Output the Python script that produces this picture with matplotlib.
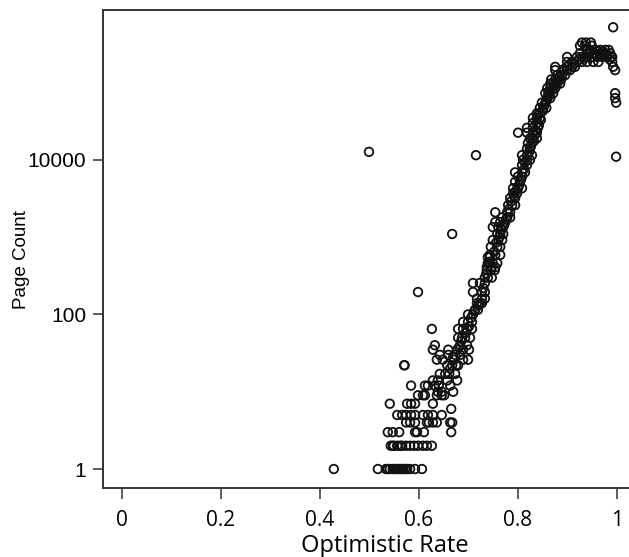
import matplotlib
matplotlib.use("Agg")
import matplotlib.pyplot as plt
from matplotlib.ticker import FixedLocator, NullLocator

# Optimistic rate (x) and page count (y) for each page group
rate = [
    0.428, 0.517, 0.533, 0.537, 0.541, 0.547, 0.551, 0.555, 0.558, 0.562, 0.565, 0.568, 0.572, 0.576, 0.582, 0.592, 0.606,
    0.543, 0.547, 0.549, 0.556, 0.562, 0.566, 0.574, 0.582, 0.590, 0.598, 0.608, 0.616, 0.626,
    0.537, 0.547, 0.560, 0.592, 0.596, 0.610, 0.665,
    0.574, 0.582, 0.592, 0.616, 0.620, 0.628, 0.636, 0.663, 0.667,
    0.556, 0.566, 0.574, 0.584, 0.592, 0.608, 0.618, 0.628, 0.646,
    0.665,
    0.541, 0.576, 0.584, 0.592, 0.628,
    0.598, 0.608, 0.612, 0.636, 0.646, 0.651,
    0.638, 0.646, 0.669,
    0.584, 0.612, 0.618, 0.632, 0.640, 0.663,
    0.628, 0.638, 0.657, 0.677,
    0.642, 0.653, 0.661, 0.673,
    0.570, 0.571, 0.657, 0.667, 0.675, 0.679,
    0.636, 0.648, 0.671, 0.689, 0.699,
    0.642, 0.659, 0.673, 0.683,
    0.628, 0.659, 0.677, 0.689, 0.701,
    0.632, 0.683, 0.697,
    0.679, 0.687, 0.693, 0.703,
    0.626, 0.679, 0.689, 0.697, 0.707,
    0.689, 0.699, 0.707,
    0.699, 0.709,
    0.713, 0.719,
    0.717, 0.723, 0.727,
    0.717, 0.727, 0.733,
    0.598, 0.709, 0.727, 0.733,
    0.709, 0.723, 0.733,
    0.733, 0.739, 0.747,
    0.737, 0.745, 0.753,
    0.737, 0.747, 0.754,
    0.739, 0.749, 0.758,
    0.739, 0.743,
    0.743, 0.754, 0.764,
    0.745, 0.758, 0.764,
    0.749, 0.760, 0.768,
    0.667, 0.758, 0.764, 0.770,
    0.749, 0.760, 0.770,
    0.754, 0.764, 0.774,
    0.768, 0.778, 0.784,
    0.754, 0.778, 0.784,
    0.780, 0.788, 0.794,
    0.784, 0.794,
    0.790, 0.798,
    0.790, 0.800, 0.808,
    0.794, 0.804,
    0.800, 0.808,
    0.794, 0.808, 0.814,
    0.808, 0.818,
    0.810, 0.818, 0.824,
    0.998,
    0.715, 0.808, 0.818, 0.828,
    0.499,
    0.818, 0.824,
    0.820, 0.828,
    0.824, 0.830, 0.838,
    0.800, 0.818, 0.830, 0.838,
    0.818, 0.830, 0.840,
    0.830, 0.838,
    0.830, 0.838, 0.844,
    0.838, 0.844,
    0.844, 0.851, 0.857,
    0.848, 0.855, 0.998,
    0.859, 0.865, 0.996,
    0.855, 0.861, 0.871, 0.996,
    0.859, 0.865, 0.875,
    0.865, 0.871, 0.879, 0.885,
    0.867, 0.875, 0.881, 0.887,
    0.879, 0.889, 0.895,
    0.875, 0.891, 0.899, 0.905, 0.996,
    0.875, 0.899, 0.909, 0.915, 0.992,
    0.899, 0.909, 0.919, 0.929, 0.939, 0.952, 0.962, 0.990,
    0.899, 0.919, 0.929, 0.939, 0.949, 0.960, 0.970, 0.980, 0.990,
    0.925, 0.939, 0.952, 0.966, 0.976, 0.986,
    0.939, 0.946, 0.956, 0.966, 0.976, 0.983,
    0.925, 0.935, 0.949,
    0.929, 0.937, 0.947,
    0.992,
]

pages = [
    1, 1, 1, 1, 1, 1, 1, 1, 1, 1, 1, 1, 1, 1, 1, 1, 1,
    2, 2, 2, 2, 2, 2, 2, 2, 2, 2, 2, 2, 2,
    3, 3, 3, 3, 3, 3, 3,
    4, 4, 4, 4, 4, 4, 4, 4, 4,
    5, 5, 5, 5, 5, 5, 5, 5, 5,
    6,
    7, 7, 7, 7, 7,
    9, 9, 9, 9, 9, 9,
    10, 10, 10,
    12, 12, 12, 12, 12, 12,
    14, 14, 14, 14,
    17, 17, 17, 17,
    22, 22, 22, 22, 22, 22,
    26, 26, 26, 26, 26,
    30, 30, 30, 30,
    35, 35, 35, 35, 35,
    40, 40, 40,
    50, 50, 50, 50,
    65, 65, 65, 65, 65,
    80, 80, 80,
    100, 100,
    115, 115,
    140, 140, 140,
    160, 160, 160,
    195, 195, 195, 195,
    255, 255, 255,
    300, 300, 300,
    375, 375, 375,
    410, 410, 410,
    460, 460, 460,
    550, 550,
    590, 590, 590,
    750, 750, 750,
    920, 920, 920,
    1100, 1100, 1100, 1100,
    1350, 1350, 1350,
    1570, 1570, 1570,
    1800, 1800, 1800,
    2100, 2100, 2100,
    2600, 2600, 2600,
    3200, 3200,
    3700, 3700,
    4300, 4300, 4300,
    5200, 5200,
    6100, 6100,
    6900, 6900, 6900,
    8600, 8600,
    10000, 10000, 10000,
    11000,
    11500, 11500, 11500, 11500,
    12700,
    14000, 14000,
    16500, 16500,
    19000, 19000, 19000,
    22500, 22500, 22500, 22500,
    26000, 26000, 26000,
    30000, 30000,
    35000, 35000, 35000,
    40000, 40000,
    47000, 47000, 47000,
    55000, 55000, 55000,
    63000, 63000, 63000,
    73000, 73000, 73000, 73000,
    85000, 85000, 85000,
    97000, 97000, 97000, 97000,
    110000, 110000, 110000, 110000,
    125000, 125000, 125000,
    145000, 145000, 145000, 145000, 145000,
    160000, 160000, 160000, 160000, 160000,
    185000, 185000, 185000, 185000, 185000, 185000, 185000, 185000,
    215000, 215000, 215000, 215000, 215000, 215000, 215000, 215000, 215000,
    240000, 240000, 240000, 240000, 240000, 240000,
    265000, 265000, 265000, 265000, 265000, 265000,
    300000, 300000, 300000,
    330000, 330000, 330000,
    520000,
]

# Additional overlapping points along the dense part of the curve
rate_dense = [
    0.663, 0.669, 0.681, 0.685, 0.695, 0.701, 0.705, 0.712, 0.720, 0.730,
    0.736, 0.742, 0.752, 0.756, 0.762, 0.766, 0.772, 0.776, 0.781, 0.786,
    0.792, 0.796, 0.802, 0.806, 0.812, 0.814, 0.822, 0.826, 0.832, 0.834,
    0.836, 0.842, 0.846, 0.840, 0.850, 0.853, 0.857, 0.863, 0.869, 0.873,
    0.877, 0.883, 0.887, 0.893, 0.903, 0.913, 0.923, 0.933, 0.943, 0.958,
    0.972, 0.980, 0.945, 0.962, 0.968, 0.985, 0.988,
]
pages_dense = [
    20, 28, 38, 45, 58, 70, 90, 110, 130, 220,
    340, 480, 650, 850, 1000, 1250, 1450, 1700, 2300, 2900,
    3400, 4000, 4700, 5600, 7600, 9300, 12500, 15000, 17500, 21000,
    24000, 28000, 33000, 38000, 43000, 51000, 58000, 68000, 80000, 90000,
    103000, 117000, 135000, 150000, 170000, 175000, 200000, 205000, 230000, 225000,
    250000, 230000, 250000, 255000, 230000, 200000, 215000,
]

x_ticks = [0, 0.2, 0.4, 0.6, 0.8, 1]
x_tick_labels = ["0", "0.2", "0.4", "0.6", "0.8", "1"]
y_ticks = [1, 100, 10000]
y_tick_labels = ["1", "100", "10000"]

all_rate = rate + rate_dense
all_pages = pages + pages_dense
assert len(all_rate) == len(all_pages)

fig = plt.figure(figsize=(6.29, 5.57), dpi=100)
ax = fig.add_axes([103 / 629, 69 / 557, 1 - 103 / 629, (488 - 10) / 557])

ax.scatter(all_rate, all_pages, s=38, facecolors="none", edgecolors="#111111", linewidths=1.3)

ax.set_yscale("log")
ax.set_xlim(-0.038, 1.024)
ax.set_ylim(0.568, 870000)

ax.xaxis.set_major_locator(FixedLocator(x_ticks))
ax.set_xticklabels(x_tick_labels, family="Open Sans", fontsize=15)
ax.yaxis.set_major_locator(FixedLocator(y_ticks))
ax.yaxis.set_minor_locator(NullLocator())
ax.set_yticklabels(y_tick_labels, family="Liberation Sans", fontsize=15)

ax.tick_params(axis="y", length=7, width=1.1, color="#333333", pad=5)
ax.tick_params(axis="x", length=8, width=1.1, color="#333333", pad=8)

for side in ["left", "bottom", "top"]:
    ax.spines[side].set_linewidth(1.4)
    ax.spines[side].set_color("#333333")
ax.spines["right"].set_visible(False)

ax.set_xlabel("Optimistic Rate", family="Open Sans", fontsize=17)
ax.xaxis.set_label_coords((385 - 103) / 526, (488 - 534) / 478)
ax.set_ylabel("Page Count", family="Liberation Sans", fontsize=13.5)
ax.yaxis.set_label_coords((30 - 103) / 526, (488 - 260) / 478)

fig.savefig("out.png", dpi=100, facecolor="white")
